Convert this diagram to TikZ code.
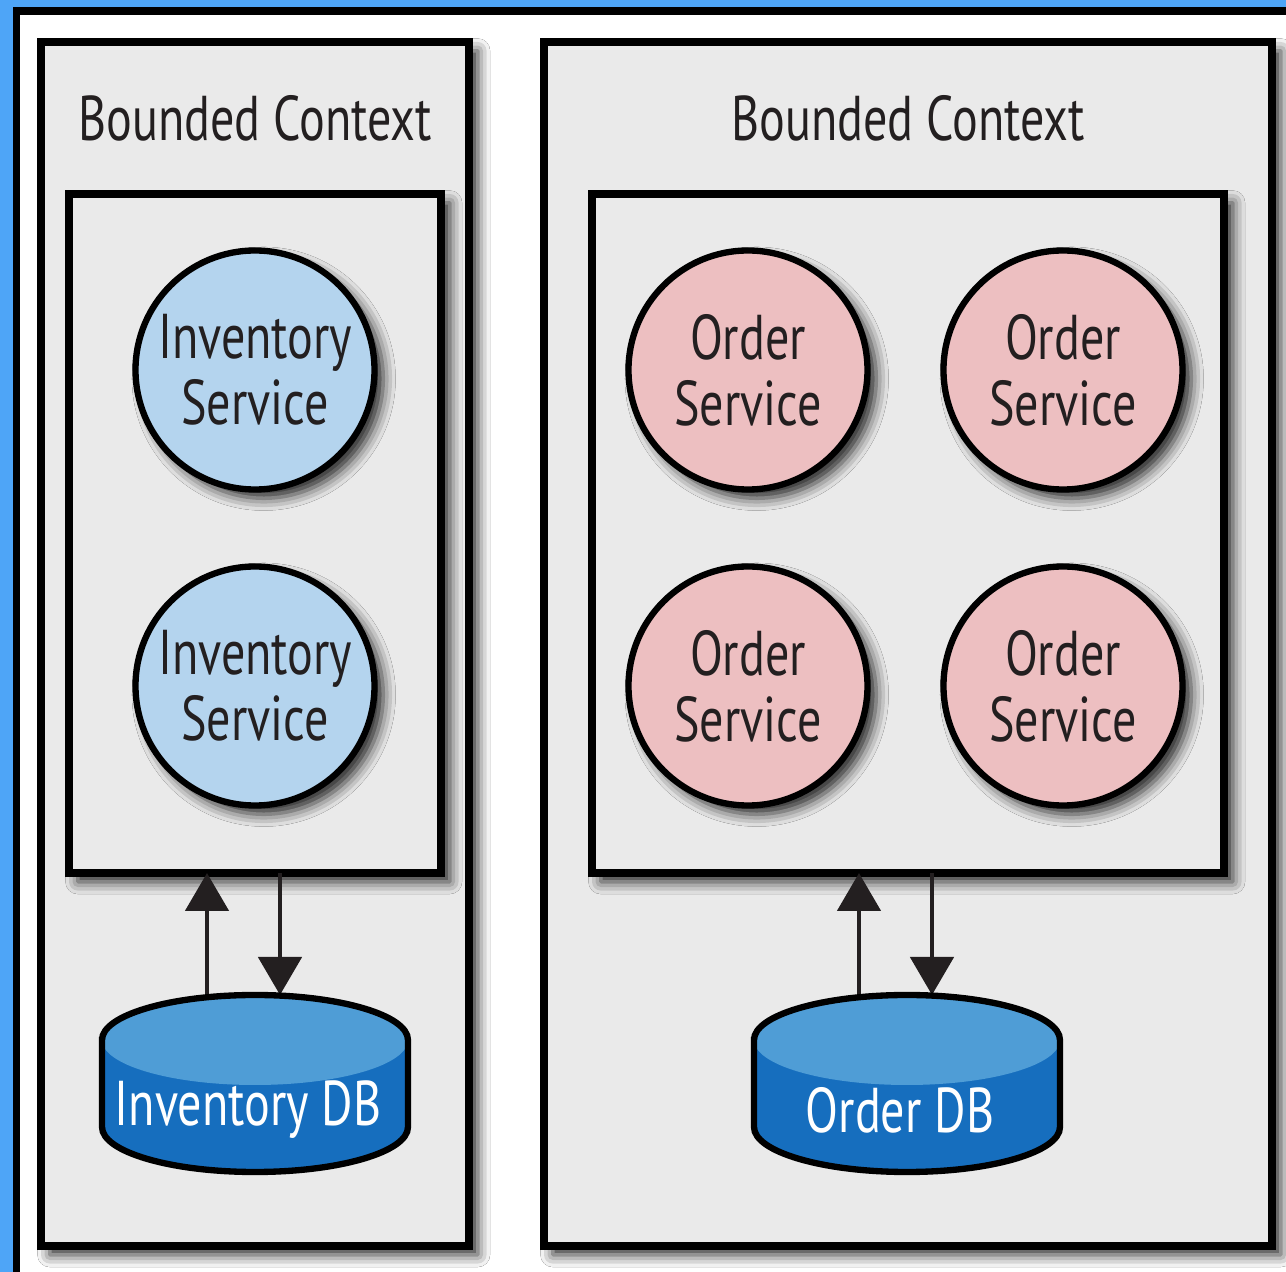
\documentclass[tikz,border=0pt]{standalone}
\usepackage{fontspec}
\setmainfont{PT Sans}[FakeStretch=0.76]
\usetikzlibrary{arrows.meta}
\usetikzlibrary{shadows.blur}

\definecolor{frameblue}{HTML}{4EA5F7}
\definecolor{ctxgray}{HTML}{EAEAEA}
\definecolor{invblue}{HTML}{B4D4EE}
\definecolor{ordpink}{HTML}{EDBFC1}
\definecolor{dbtop}{HTML}{4F9DD6}
\definecolor{dbside}{HTML}{166EBE}
\definecolor{ink}{HTML}{231F20}

\tikzset{
	softshadow/.style={blur shadow={shadow xshift=2.5pt, shadow yshift=-2.5pt, shadow blur radius=3.5pt, shadow opacity=85}},
	ctxbox/.style={rectangle, draw=black, line width=2.3pt, fill=ctxgray, inner sep=0pt, outer sep=0pt, softshadow},
	svc/.style={circle, draw=black, line width=1.8pt, minimum size=2.39cm, inner sep=0pt, outer sep=0pt, align=center, text=ink, font=\fontsize{18}{18.8}\selectfont, softshadow},
	invsvc/.style={svc, fill=invblue},
	ordsvc/.style={svc, fill=ordpink},
	ctxtitle/.style={text=ink, font=\fontsize{18}{20}\selectfont},
	dblabel/.style={text=white, font=\fontsize{18}{20}\selectfont},
	flow/.style={draw=ink, line width=1.4pt, -{Triangle[width=0.43cm,length=0.38cm]}},
}

% database drum, #1 = x of its axis
\newcommand{\dbdrum}[1]{%
	\fill[dbside] ({#1-1.53},2.32) -- ({#1-1.53},1.45) arc[start angle=180, end angle=360, x radius=1.53, y radius=0.45] -- ({#1+1.53},2.32) -- cycle;
	\fill[dbtop] (#1,2.32) ellipse[x radius=1.53, y radius=0.45];
	\draw[black, line width=1.8pt] ({#1-1.53},2.32) -- ({#1-1.53},1.45) arc[start angle=180, end angle=360, x radius=1.53, y radius=0.45] -- ({#1+1.53},2.32) arc[start angle=0, end angle=180, x radius=1.53, y radius=0.45] -- cycle;
}

\begin{document}
\begin{tikzpicture}
	\useasboundingbox (0,0) rectangle (12.86,12.72);
	% frame
	\fill[frameblue] (0,0) rectangle (12.86,12.72);
	\fill[black] (0.13,0) rectangle (12.86,12.65);
	\fill[white] (0.20,0) rectangle (12.86,12.57);

	% the two contexts
	\node (invctx) [ctxbox, minimum width=4.28cm, minimum height=12.04cm] at (2.55,6.28) {};
	\node (ordctx) [ctxbox, minimum width=7.28cm, minimum height=12.04cm] at (9.08,6.28) {};
	\node (invtitle) [ctxtitle] at (2.55,11.54) {Bounded Context};
	\node (ordtitle) [ctxtitle] at (9.08,11.54) {Bounded Context};
	\node (invinner) [ctxbox, minimum width=3.72cm, minimum height=6.79cm] at (2.55,7.385) {};
	\node (ordinner) [ctxbox, minimum width=6.32cm, minimum height=6.79cm] at (9.08,7.385) {};

	% services
	\node (inv1) [invsvc] at (2.55,9.02) {Inventory\\Service};
	\node (inv2) [invsvc] at (2.55,5.86) {Inventory\\Service};
	\node (ord1) [ordsvc] at (7.48,9.02) {Order\\Service};
	\node (ord2) [ordsvc] at (10.63,9.02) {Order\\Service};
	\node (ord3) [ordsvc] at (7.48,5.86) {Order\\Service};
	\node (ord4) [ordsvc] at (10.63,5.86) {Order\\Service};

	% reads and writes
	\coordinate (invup) at (2.07,2.77);
	\coordinate (invdown) at (2.80,2.77);
	\coordinate (ordup) at (8.59,2.77);
	\coordinate (orddown) at (9.32,2.77);
	\draw[flow] (invup) -- (invup |- invinner.south);
	\draw[flow] (invdown |- invinner.south) -- (invdown);
	\draw[flow] (ordup) -- (ordup |- ordinner.south);
	\draw[flow] (orddown |- ordinner.south) -- (orddown);

	% stores
	\dbdrum{2.55}
	\dbdrum{9.07}
	\node (invdb) [dblabel] at (2.48,1.62) {Inventory DB};
	\node (orddb) [dblabel] at (9.00,1.62) {Order DB};
\end{tikzpicture}
\end{document}
